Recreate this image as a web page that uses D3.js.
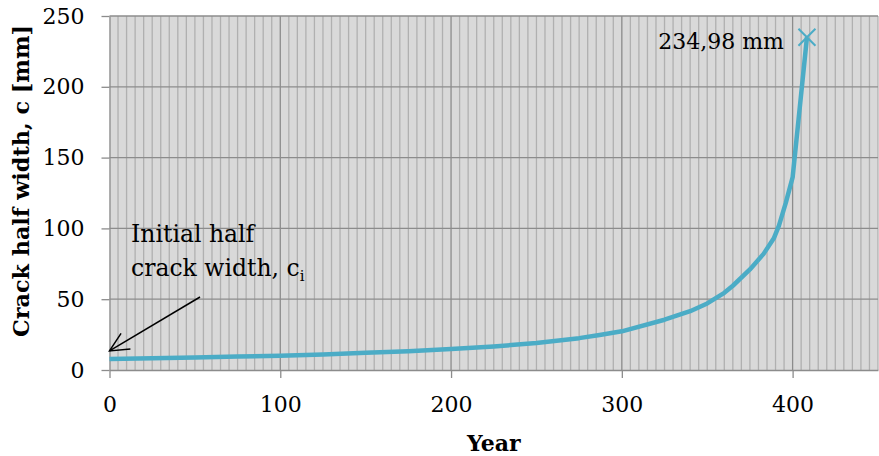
<!DOCTYPE html>
<html>
<head>
<meta charset="utf-8">
<script src="https://cdn.jsdelivr.net/npm/d3@7"></script>
<style>
  html, body { margin: 0; padding: 0; background: #fff; }
  svg { display: block; }
  text { font-family: "DejaVu Serif", serif; fill: #000; }
</style>
</head>
<body>
<svg id="chart" width="879" height="456"></svg>
<script>
// Crack growth over time: half crack width c [mm] against year
const years = [0, 25, 50, 75, 100, 125, 150, 175, 200, 225, 250, 275, 287, 300, 325, 340, 350, 360, 365, 375, 383, 389, 392, 396, 400, 408.4];
const crackHalfWidth = [7.8, 8.3, 8.9, 9.5, 10.1, 11.0, 12.1, 13.3, 14.8, 16.6, 19.0, 22.5, 24.7, 27.3, 35.5, 41.5, 47.0, 54.5, 59.5, 71.0, 82.0, 93.0, 102.0, 118.0, 136.0, 234.98];
const xTicks = [0, 100, 200, 300, 400];
const yTicks = [0, 50, 100, 150, 200, 250];
const finalLabel = "234,98 mm";

const svg = d3.select("#chart");
const plot = { left: 109.5, right: 878, top: 16, bottom: 370 };

const x = d3.scaleLinear().domain([0, 450]).range([plot.left, plot.right]);
const y = d3.scaleLinear().domain([0, 250]).range([plot.bottom, plot.top]);

// plot background
svg.append("rect")
  .attr("x", plot.left).attr("y", plot.top)
  .attr("width", plot.right - plot.left).attr("height", plot.bottom - plot.top)
  .attr("fill", "#d9d9d9");

// minor vertical gridlines every 5 years
const minor = d3.range(5, 451, 5).filter(v => v % 100 !== 0);
svg.append("g").selectAll("line").data(minor).join("line")
  .attr("x1", d => x(d)).attr("x2", d => x(d))
  .attr("y1", plot.top).attr("y2", plot.bottom)
  .attr("stroke", "#b0b0b0").attr("stroke-width", 1.3);

// major vertical gridlines
svg.append("g").selectAll("line").data(xTicks.filter(v => v > 0)).join("line")
  .attr("x1", d => x(d)).attr("x2", d => x(d))
  .attr("y1", plot.top).attr("y2", plot.bottom)
  .attr("stroke", "#8c8c8c").attr("stroke-width", 1.3);

// horizontal gridlines
svg.append("g").selectAll("line").data(yTicks.filter(v => v > 0)).join("line")
  .attr("x1", plot.left).attr("x2", plot.right)
  .attr("y1", d => y(d)).attr("y2", d => y(d))
  .attr("stroke", "#8c8c8c").attr("stroke-width", 1.3);

// axes
const yAxis = svg.append("g")
  .attr("transform", `translate(${plot.left},0)`)
  .call(d3.axisLeft(y).tickValues(yTicks).tickSize(8).tickPadding(17).tickSizeOuter(0));
const xAxis = svg.append("g")
  .attr("transform", `translate(0,${plot.bottom})`)
  .call(d3.axisBottom(x).tickValues(xTicks).tickSize(8).tickPadding(18).tickSizeOuter(0));

[yAxis, xAxis].forEach(g => {
  g.select(".domain").attr("stroke", "#8c8c8c").attr("stroke-width", 1.3);
  g.selectAll(".tick line").attr("stroke", "#8c8c8c").attr("stroke-width", 1.3);
  g.selectAll(".tick text").style("font-family", "'DejaVu Serif', serif").style("font-size", "22px").attr("fill", "#000");
});

// data line
const line = d3.line().x((d, i) => x(years[i])).y(d => y(d));
svg.append("path")
  .datum(crackHalfWidth)
  .attr("d", line)
  .attr("fill", "none")
  .attr("stroke", "#4bacc6")
  .attr("stroke-width", 4.5)
  .attr("stroke-linejoin", "round");

// end-point marker (x)
const last = crackHalfWidth.length - 1;
const mx = x(years[last]), my = y(crackHalfWidth[last]);
const ms = 8.5;
svg.append("path")
  .attr("d", `M${mx - ms},${my - ms}L${mx + ms},${my + ms}M${mx - ms},${my + ms}L${mx + ms},${my - ms}`)
  .attr("stroke", "#4bacc6").attr("stroke-width", 2).attr("fill", "none");

svg.append("text")
  .attr("x", mx - 23).attr("y", my + 12)
  .attr("text-anchor", "end")
  .style("font-size", "22px")
  .text(finalLabel);

// annotation for the initial value
const ann = svg.append("text").style("font-size", "23.5px");
ann.append("tspan").attr("x", 131).attr("y", 242).text("Initial half");
ann.append("tspan").attr("x", 131).attr("y", 276).text("crack width, c");
ann.append("tspan").attr("dy", 5).style("font-size", "15px").text("i");

const ax0 = 200, ay0 = 297;
const ax1 = x(0), ay1 = y(crackHalfWidth[0]) - 8;
svg.append("line")
  .attr("x1", ax0).attr("y1", ay0).attr("x2", ax1).attr("y2", ay1)
  .attr("stroke", "#000").attr("stroke-width", 1.5);
const ang = Math.atan2(ay0 - ay1, ax0 - ax1);
const hl = 21, spread = 0.45;
svg.append("path")
  .attr("d", `M${ax1 + hl * Math.cos(ang - spread)},${ay1 + hl * Math.sin(ang - spread)}L${ax1},${ay1}L${ax1 + hl * Math.cos(ang + spread)},${ay1 + hl * Math.sin(ang + spread)}`)
  .attr("stroke", "#000").attr("stroke-width", 1.5).attr("fill", "none");

// axis titles
svg.append("text")
  .attr("transform", `translate(29,181) rotate(-90)`)
  .attr("text-anchor", "middle")
  .style("font-size", "22.3px").style("font-weight", "bold")
  .text("Crack half width, c [mm]");

svg.append("text")
  .attr("x", (plot.left + plot.right) / 2).attr("y", 451)
  .attr("text-anchor", "middle")
  .style("font-size", "22px").style("font-weight", "bold")
  .text("Year");
</script>
</body>
</html>
